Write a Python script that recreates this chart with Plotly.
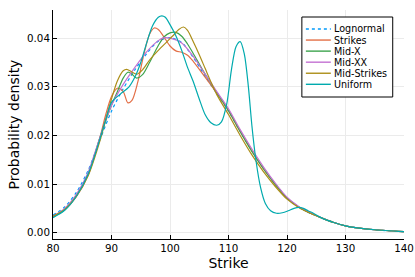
import plotly.graph_objects as go

# ---------------- data ----------------
series_names = ["Lognormal", "Strikes", "Mid-X", "Mid-XX", "Mid-Strikes", "Uniform"]

lognormal_x = [80, 82, 84, 86, 88, 90, 92, 94, 96, 98, 100, 102, 104, 106, 108, 110,
               112, 114, 116, 118, 120, 122, 124, 126, 128, 130, 132, 135, 140]
lognormal_y = [0.0036, 0.0053, 0.0083, 0.0128, 0.0190, 0.0250, 0.0296, 0.0335, 0.0368, 0.0394,
               0.0401, 0.0391, 0.0360, 0.0322, 0.0286, 0.0250, 0.0208, 0.0168, 0.0132, 0.0100,
               0.0072, 0.0053, 0.0040, 0.0030, 0.0021, 0.0014, 0.0010, 0.0006, 0.0002]

strikes_x = [80, 82, 84, 86, 88, 89, 90, 91, 92, 92.8, 93.5, 94.5, 95.5, 96.5, 97.3, 98, 99, 100,
             101, 102, 103, 104, 106, 108, 110, 112, 114, 116, 118, 120, 122, 124, 126, 128,
             130, 132, 135, 140]
strikes_y = [0.0033, 0.0047, 0.0074, 0.0118, 0.0195, 0.0242, 0.0280, 0.0297, 0.0290, 0.0267,
             0.0272, 0.0310, 0.0365, 0.0408, 0.0421, 0.0418, 0.0402, 0.0384, 0.0374, 0.0371,
             0.0365, 0.0352, 0.0320, 0.0287, 0.0251, 0.0208, 0.0168, 0.0131, 0.0099, 0.0071,
             0.0053, 0.0040, 0.0030, 0.0021, 0.0014, 0.0010, 0.0006, 0.0002]

midx_x = [80, 82, 84, 86, 88, 90, 91, 92, 92.8, 93.5, 94.3, 95.3, 96.5, 98, 99, 100, 101, 102,
          103, 104, 106, 108, 110, 112, 114, 116, 118, 120, 122, 124, 126, 128, 130, 132, 135, 140]
midx_y = [0.0032, 0.0047, 0.0076, 0.0120, 0.0195, 0.0262, 0.0290, 0.0318, 0.0330, 0.0326,
          0.0318, 0.0325, 0.0350, 0.0385, 0.0403, 0.0411, 0.0412, 0.0404, 0.0388, 0.0368,
          0.0326, 0.0288, 0.0251, 0.0208, 0.0167, 0.0131, 0.0099, 0.0071, 0.0053, 0.0040,
          0.0030, 0.0021, 0.0014, 0.0010, 0.0006, 0.0002]

midxx_x = [80, 82, 84, 86, 88, 90, 92, 94, 96, 98, 99, 100, 102, 104, 106, 108, 110, 112, 114,
           116, 118, 120, 122, 124, 126, 128, 130, 132, 135, 140]
midxx_y = [0.0034, 0.0050, 0.0079, 0.0124, 0.0195, 0.0262, 0.0305, 0.0340, 0.0372, 0.0395,
           0.0401, 0.0400, 0.0390, 0.0362, 0.0326, 0.0290, 0.0255, 0.0212, 0.0172, 0.0135,
           0.0102, 0.0073, 0.0054, 0.0041, 0.0030, 0.0021, 0.0014, 0.0010, 0.0006, 0.0002]

midstrikes_x = [80, 82, 84, 86, 88, 89, 90, 91, 92, 92.6, 93.4, 94.3, 95.3, 96.5, 98, 99.5, 100.5,
                101.5, 102.3, 103, 104, 105, 106, 107, 108, 110, 112, 114, 116, 118, 120, 122,
                124, 126, 128, 130, 132, 135, 140]
midstrikes_y = [0.0034, 0.0048, 0.0075, 0.0117, 0.0188, 0.0232, 0.0275, 0.0312, 0.0333, 0.0336,
                0.0331, 0.0326, 0.0335, 0.0355, 0.0375, 0.0393, 0.0405, 0.0418, 0.0423, 0.0416,
                0.0392, 0.0366, 0.0338, 0.0310, 0.0284, 0.0243, 0.0200, 0.0160, 0.0125, 0.0095,
                0.0069, 0.0052, 0.0040, 0.0030, 0.0021, 0.0014, 0.0010, 0.0006, 0.0002]

uniform_x = [80, 82, 84, 86, 88, 89, 90, 91.5, 93, 94, 95, 96, 97, 98, 98.6, 99.2, 100, 101, 102,
             103, 104, 105, 106, 107, 108, 108.8, 109.7, 110.5, 111.3, 112, 112.7, 113.4, 114,
             114.7, 115.5, 116.3, 117.2, 118.2, 119.2, 120.2, 121.2, 122, 122.8, 123.6, 124.5,
             126, 128, 130, 132, 135, 140]
uniform_y = [0.0031, 0.0046, 0.0075, 0.0120, 0.0192, 0.0232, 0.0268, 0.0285, 0.0300, 0.0320,
             0.0350, 0.0390, 0.0425, 0.0443, 0.0446, 0.0443, 0.0428, 0.0405, 0.0375, 0.0340,
             0.0310, 0.0275, 0.0243, 0.0226, 0.0221, 0.0228, 0.0265, 0.0335, 0.0383, 0.0393,
             0.0368, 0.0300, 0.0220, 0.0148, 0.0092, 0.0060, 0.0045, 0.0040, 0.0041, 0.0045,
             0.0050, 0.0052, 0.0050, 0.0045, 0.0040, 0.0030, 0.0021, 0.0014, 0.0010, 0.0006,
             0.0002]

x_ticks = [80, 90, 100, 110, 120, 130, 140]
y_ticks = [0.00, 0.01, 0.02, 0.03, 0.04]

# ---------------- styling ----------------
colors = ["#009AFA", "#E36F47", "#3EA44E", "#C371D2", "#AC8E18", "#00AAAE"]
dashes = ["dot", "solid", "solid", "solid", "solid", "solid"]
xs = [lognormal_x, strikes_x, midx_x, midxx_x, midstrikes_x, uniform_x]
ys = [lognormal_y, strikes_y, midx_y, midxx_y, midstrikes_y, uniform_y]

W, H = 415, 277
L, R, T, B = 52.7, 404.3, 10, 239  # plot area in pixels
FONT = "DejaVu Sans"

fig = go.Figure()
for name, x, y, c, d in zip(series_names, xs, ys, colors, dashes):
    fig.add_trace(go.Scatter(x=x, y=y, mode="lines", name=name,
                             line=dict(color=c, width=1.2, dash=d, shape="spline", smoothing=0.8),
                             showlegend=False))

y_bottom = -0.0013
y_top = 0.0458

fig.update_layout(
    width=W, height=H,
    margin=dict(l=L, r=W - R, t=T, b=H - B, pad=0, autoexpand=False),
    paper_bgcolor="white", plot_bgcolor="white",
    font=dict(family=FONT, size=10.3, color="black"),
    showlegend=False,
)
fig.update_xaxes(range=[80, 140], tickvals=x_ticks, ticktext=[str(v) for v in x_ticks],
                 automargin=False,
                 showgrid=True, gridcolor="#ebebeb", gridwidth=1, zeroline=False,
                 showline=True, linecolor="black", linewidth=1,
                 ticks="inside", ticklen=4, tickcolor="black",
                 title=dict(text="Strike", font=dict(size=14, family=FONT), standoff=4))
fig.update_yaxes(range=[y_bottom, y_top], tickvals=y_ticks, ticktext=[f"{v:.2f}" for v in y_ticks],
                 automargin=False,
                 showgrid=True, gridcolor="#ebebeb", gridwidth=1, zeroline=False,
                 showline=True, linecolor="black", linewidth=1,
                 ticks="inside", ticklen=4, tickcolor="black",
                 title=dict(text="Probability density", font=dict(size=14, family=FONT), standoff=4))

# ---------------- hand-made legend (compact, like the reference) ----------------
def px_x(p):
    return (p - L) / (R - L)

def px_y(p):
    return (B - p) / (B - T)

box = (302, 17, 393, 97)
fig.add_shape(type="rect", xref="paper", yref="paper",
              x0=px_x(box[0]), x1=px_x(box[2]), y0=px_y(box[3]), y1=px_y(box[1]),
              line=dict(color="black", width=1), fillcolor="white", layer="above")
for i, (name, c, d) in enumerate(zip(series_names, colors, dashes)):
    yc = 29 + i * 11.06
    fig.add_shape(type="line", xref="paper", yref="paper",
                  x0=px_x(306), x1=px_x(331), y0=px_y(yc), y1=px_y(yc),
                  line=dict(color=c, width=1.4, dash=d), layer="above")
    fig.add_annotation(xref="paper", yref="paper", x=px_x(333), y=px_y(yc),
                       xanchor="left", yanchor="middle", text=name, showarrow=False,
                       borderpad=0,
                       font=dict(size=9.6, family=FONT, color="black"))

fig.write_html("out.html", config={"displayModeBar": False},
               post_script="document.body.style.margin='0';document.body.style.overflow='hidden';")
